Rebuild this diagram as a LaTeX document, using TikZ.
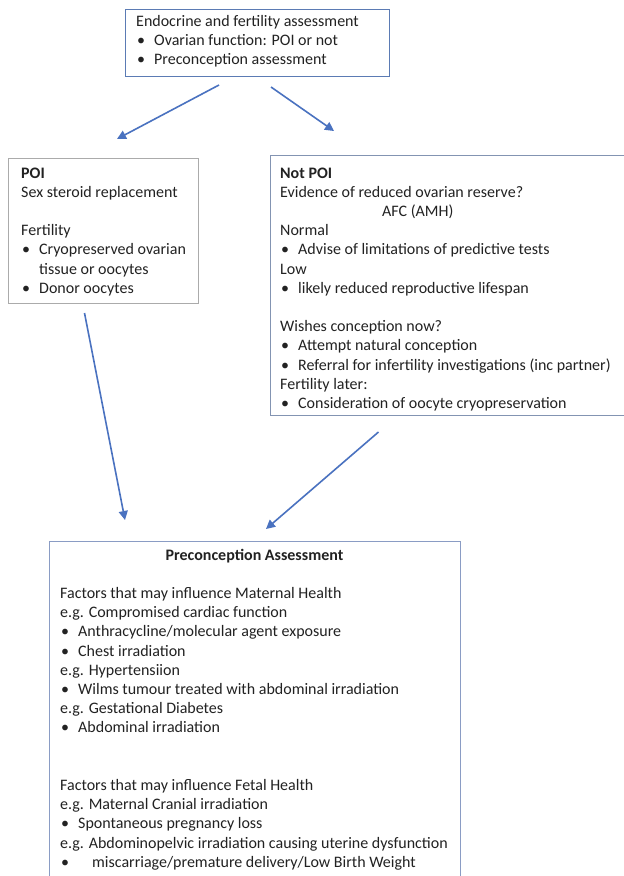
\documentclass[tikz,border=0pt]{standalone}
\usepackage{fontspec}
\setmainfont{Carlito}
\usetikzlibrary{arrows.meta}
\definecolor{arrowblue}{HTML}{4A72C0}
\definecolor{topborder}{HTML}{5B7BB4}
\definecolor{poiborder}{HTML}{ABABAB}
\definecolor{notpoiborder}{HTML}{8394B2}
\definecolor{bottomborder}{HTML}{8A9CC4}
\definecolor{txtcol}{HTML}{222222}
\newcommand{\bitem}{\makebox[18pt][l]{\hspace{1pt}\textbullet}}
\newcommand{\txtfont}{\fontsize{16}{19.2}\selectfont}
\tikzset{
  boxstyle/.style={draw, line width=1pt, fill=white, inner sep=0pt, anchor=north west},
  txt/.style={inner sep=0pt, anchor=base west, text=txtcol, font=\txtfont},
  arr/.style={draw=arrowblue, line width=1.6pt, -{Triangle[length=9pt,width=9pt]}}
}
\begin{document}
\begin{tikzpicture}[x=1pt,y=-1pt]
\useasboundingbox (0,0) rectangle (624,876);
\clip (0,0) rectangle (624,876);
\fill[white] (0,0) rectangle (624,876);

% boxes
\node[boxstyle, draw=topborder, minimum width=264pt, minimum height=67pt] (topbox) at (125,9) {};
\node[boxstyle, draw=poiborder, minimum width=190pt, minimum height=145pt] (poibox) at (8,158) {};
\node[boxstyle, draw=notpoiborder, minimum width=370pt, minimum height=260pt] (notpoibox) at (270,155) {};
\node[boxstyle, draw=bottomborder, minimum width=411pt, minimum height=360pt] (prebox) at (49,540.5) {};

% texts
\node[txt] (toptext) at (136,26.5) {\parbox[t]{250pt}{%
Endocrine and fertility assessment\\
\bitem Ovarian function: POI or not\\
\bitem Preconception assessment}};

\node[txt] (poitext) at (21,178) {\parbox[t]{175pt}{%
\textbf{POI}\\
Sex steroid replacement\\[19.2pt]
Fertility\\
\bitem Cryopreserved ovarian\\
\hspace*{18pt}tissue or oocytes\\
\bitem Donor oocytes}};

\node[txt] (notpoitext) at (280,178) {\parbox[t]{350pt}{%
\textbf{Not POI}\\
Evidence of reduced ovarian reserve?\\
\hspace*{102pt}AFC (AMH)\\
Normal\\
\bitem Advise of limitations of predictive tests\\
Low\\
\bitem likely reduced reproductive lifespan\\[19.2pt]
Wishes conception now?\\
\bitem Attempt natural conception\\
\bitem Referral for infertility investigations (inc partner)\\
Fertility later:\\
\bitem Consideration of oocyte cryopreservation}};

\node[txt, anchor=base] (pretitle) at (254.5,560) {\textbf{Preconception Assessment}};

\node[txt] (pretext) at (60,598.4) {\parbox[t]{395pt}{%
Factors that may influence Maternal Health\\
e.g. Compromised cardiac function\\
\bitem Anthracycline/molecular agent exposure\\
\bitem Chest irradiation\\
e.g. Hypertensiion\\
\bitem Wilms tumour treated with abdominal irradiation\\
e.g. Gestational Diabetes\\
\bitem Abdominal irradiation\\[38.4pt]
Factors that may influence Fetal Health\\
e.g. Maternal Cranial irradiation\\
\bitem Spontaneous pregnancy loss\\
e.g. Abdominopelvic irradiation causing uterine dysfunction\\
\bitem\hspace*{14pt}miscarriage/premature delivery/Low Birth Weight}};

% arrows
\coordinate (a1s) at (219,85);
\coordinate (a1e) at (117,139);
\coordinate (a2s) at (271,87);
\coordinate (a2e) at (334,131);
\coordinate (a3s) at (84.5,313);
\coordinate (a3e) at (125,520);
\coordinate (a4s) at (378.5,432);
\coordinate (a4e) at (266,529);
\draw[arr] (a1s) -- (a1e);
\draw[arr] (a2s) -- (a2e);
\draw[arr] (a3s) -- (a3e);
\draw[arr] (a4s) -- (a4e);
\end{tikzpicture}
\end{document}
